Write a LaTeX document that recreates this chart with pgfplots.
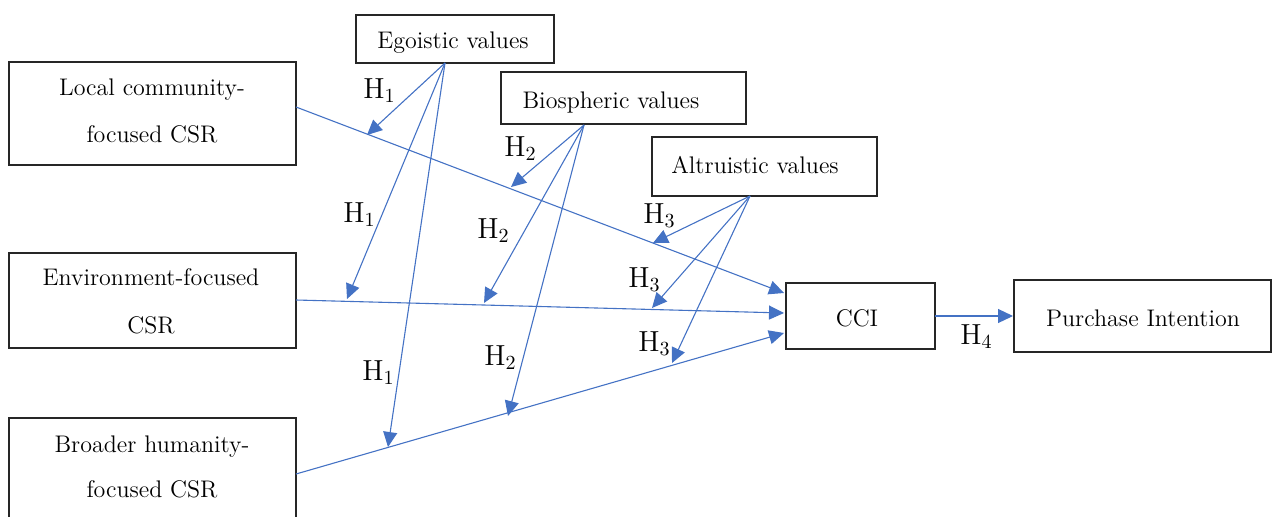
\documentclass[border=0pt]{standalone}
\usepackage{pgfplots}
\pgfplotsset{compat=1.18}
\usetikzlibrary{arrows.meta}
\definecolor{arrblue}{HTML}{4472C4}
\tikzset{
  arr/.style={color=arrblue, line width=0.55pt, -{Triangle[length=7.5pt,width=7pt]}},
  box/.style={black!85, line width=0.55pt, line cap=rect, line join=miter},
  boxtext/.style={anchor=base, inner sep=0pt, font=\fontsize{12}{14}\selectfont},
  hlab/.style={anchor=base west, inner sep=0pt, font=\fontsize{14.5}{17}\selectfont},
}
\begin{document}
\begin{tikzpicture}
\begin{axis}[x=0.5pt, y=0.5pt, y dir=reverse,
  xmin=0, xmax=1272, ymin=0, ymax=515,
  hide axis, scale only axis, clip=false,
  every axis plot/.append style={mark=none},
]
% invisible frame for bounding box
\addplot[draw=none] coordinates {(0,0) (1272,515)};
% boxes
\addplot[box] coordinates {(356,15) (554,15) (554,63) (356,63) (356,15)};
\addplot[box] coordinates {(9,62) (296,62) (296,165) (9,165) (9,62)};
\addplot[box] coordinates {(501,72) (746,72) (746,124) (501,124) (501,72)};
\addplot[box] coordinates {(652,137) (877,137) (877,196) (652,196) (652,137)};
\addplot[box] coordinates {(9,253) (296,253) (296,348) (9,348) (9,253)};
\addplot[box] coordinates {(9,516) (9,418) (296,418) (296,516)};
\addplot[box] coordinates {(786,283) (935,283) (935,349) (786,349) (786,283)};
\addplot[box] coordinates {(1014,280) (1271,280) (1271,352) (1014,352) (1014,280)};
% main paths
\addplot[arr] coordinates {(296,107) (784,293)};
\addplot[arr] coordinates {(296,300) (784,313)};
\addplot[arr] coordinates {(296,474) (784,333)};
\addplot[arr] coordinates {(935,316) (1013,316)};
% egoistic
\addplot[arr] coordinates {(445,63) (367,135)};
\addplot[arr] coordinates {(445,63) (347,299)};
\addplot[arr] coordinates {(445,63) (388,447)};
% biospheric
\addplot[arr] coordinates {(584,125) (511,187)};
\addplot[arr] coordinates {(584,125) (484,303)};
\addplot[arr] coordinates {(584,125) (508,416)};
% altruistic
\addplot[arr] coordinates {(750,196) (653,243)};
\addplot[arr] coordinates {(750,196) (652,308)};
\addplot[arr] coordinates {(750,196) (672,363)};
% box texts
\node[boxtext] at (axis cs:453,48) {Egoistic values};
\node[boxtext] at (axis cs:611,108) {Biospheric values};
\node[boxtext] at (axis cs:755,173) {Altruistic values};
\node[boxtext] at (axis cs:152,95) {Local community-};
\node[boxtext] at (axis cs:152,142) {focused CSR};
\node[boxtext] at (axis cs:151,285) {Environment-focused};
\node[boxtext] at (axis cs:151,333) {CSR};
\node[boxtext] at (axis cs:152,452) {Broader humanity-};
\node[boxtext] at (axis cs:152,497) {focused CSR};
\node[boxtext] at (axis cs:857,326) {CCI};
\node[boxtext] at (axis cs:1143,326) {Purchase Intention};
% hypothesis labels
\node[hlab] at (axis cs:363,98) {H$_1$};
\node[hlab] at (axis cs:504,156) {H$_2$};
\node[hlab] at (axis cs:643,223) {H$_3$};
\node[hlab] at (axis cs:343,222) {H$_1$};
\node[hlab] at (axis cs:477,238) {H$_2$};
\node[hlab] at (axis cs:628,287) {H$_3$};
\node[hlab] at (axis cs:362,380) {H$_1$};
\node[hlab] at (axis cs:484,365) {H$_2$};
\node[hlab] at (axis cs:638,351) {H$_3$};
\node[hlab] at (axis cs:960,344) {H$_4$};
\end{axis}
\end{tikzpicture}
\end{document}
